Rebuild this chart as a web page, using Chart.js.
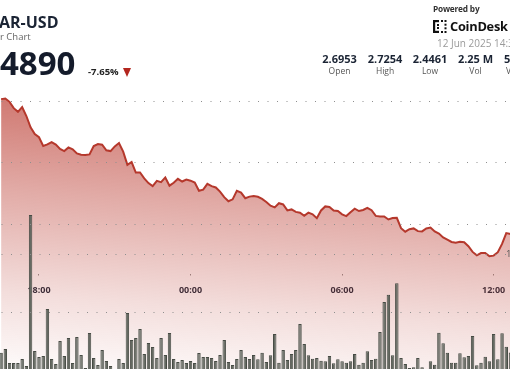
<!DOCTYPE html>
<html><head><meta charset="utf-8">
<script src="https://cdn.jsdelivr.net/npm/chart.js@4"></script>
<style>
html,body{margin:0;padding:0;background:#fff;}
#wrap{position:relative;width:510px;height:369px;overflow:hidden;background:#fff;font-family:'Open Sans',sans-serif;}
#c{position:absolute;left:-1px;top:0;}
.t{position:absolute;white-space:nowrap;}
.col{position:absolute;width:46px;text-align:center;white-space:nowrap;}
.v{font-weight:700;font-size:11px;line-height:11px;color:#1b2434;top:52.9px;}
.l{font-weight:400;font-size:8.5px;line-height:8.5px;color:#555;top:66.5px;}
</style></head><body>
<div id="wrap">
<canvas id="c" width="522" height="370"></canvas>
<div class="t" style="left:-1px;top:14.2px;font-weight:700;font-size:16px;line-height:16px;color:#1b2434;">AR-USD</div>
<div class="t" style="left:0px;top:31.9px;font-size:9.5px;line-height:9.5px;color:#666;">r Chart</div>
<div class="t" style="left:0px;top:46px;font-weight:700;font-size:33px;line-height:33px;color:#141b2b;">4890</div>
<div class="t" style="left:88px;top:66.6px;font-weight:700;font-size:9.5px;line-height:9.5px;color:#222;">-7.65%</div>
<div class="t" style="left:123px;top:68px;width:0;height:0;border-left:4.5px solid transparent;border-right:4.5px solid transparent;border-top:9px solid #b3261e;"></div>
<div class="t" style="left:433px;top:5.2px;font-weight:700;font-size:8.3px;line-height:8.3px;color:#333;letter-spacing:-0.2px;">Powered by</div>
<svg class="t" style="left:433px;top:20px;" width="14" height="13" viewBox="0 0 14 13">
<rect x="0" y="0" width="2.2" height="13" fill="#111"/>
<rect x="0" y="0" width="6" height="2.2" fill="#111"/>
<rect x="0" y="10.8" width="6" height="2.2" fill="#111"/>
<rect x="8" y="0" width="2" height="2" fill="#111"/><rect x="11.5" y="0" width="2" height="2" fill="#111"/>
<rect x="8" y="11" width="2" height="2" fill="#111"/><rect x="11.5" y="11" width="2" height="2" fill="#111"/>
<rect x="11.5" y="3.7" width="2" height="2" fill="#111"/><rect x="11.5" y="7.3" width="2" height="2" fill="#111"/>
<rect x="4" y="4" width="2" height="2" fill="#111"/><rect x="4" y="7" width="2" height="2" fill="#111"/>
</svg>
<div class="t" style="left:450px;top:20.3px;font-weight:700;font-size:12.8px;line-height:12.8px;color:#111;letter-spacing:-0.25px;">CoinDesk</div>
<div class="t" style="left:437px;top:38.1px;font-size:10px;line-height:10px;color:#9a9a9a;">12 Jun 2025 14:33</div>
<div class="col v" style="left:316.5px;">2.6953</div>
<div class="col v" style="left:362px;">2.7254</div>
<div class="col v" style="left:407px;">2.4461</div>
<div class="col v" style="left:452.5px;">2.25 M</div>
<div class="t v" style="left:504px;">5</div>
<div class="col l" style="left:316.5px;">Open</div>
<div class="col l" style="left:362px;">High</div>
<div class="col l" style="left:407px;">Low</div>
<div class="col l" style="left:452.5px;">Vol</div>
<div class="t l" style="left:506px;">V</div>
<div class="t" style="left:506px;top:249.3px;font-size:9.5px;line-height:9.5px;color:#555;">1M</div>
</div>
<script>
const times = [
"16:30","16:40","16:50","17:00","17:10","17:20","17:30","17:40","17:50",
"18:00","18:10","18:20","18:30","18:40","18:50","19:00","19:10","19:20","19:30","19:40","19:50",
"20:00","20:10","20:20","20:30","20:40","20:50","21:00","21:10","21:20","21:30","21:40","21:50",
"22:00","22:10","22:20","22:30","22:40","22:50","23:00","23:10","23:20","23:30","23:40","23:50",
"00:00","00:10","00:20","00:30","00:40","00:50","01:00","01:10","01:20","01:30","01:40","01:50",
"02:00","02:10","02:20","02:30","02:40","02:50","03:00","03:10","03:20","03:30","03:40","03:50",
"04:00","04:10","04:20","04:30","04:40","04:50","05:00","05:10","05:20","05:30","05:40","05:50",
"06:00","06:10","06:20","06:30","06:40","06:50","07:00","07:10","07:20","07:30","07:40","07:50",
"08:00","08:10","08:20","08:30","08:40","08:50","09:00","09:10","09:20","09:30","09:40","09:50",
"10:00","10:10","10:20","10:30","10:40","10:50","11:00","11:10","11:20","11:30","11:40","11:50",
"12:00","12:10","12:20","12:30","12:40","12:50","13:00"];
const xTickLabels = ["18:00","00:00","06:00","12:00"];
const price = [
2.7031,2.7041,2.6987,2.6885,2.6825,2.6903,2.6757,2.6574,2.6465,2.6413,
2.6270,2.6296,2.6335,2.6293,2.6223,2.6189,2.6248,2.6217,2.6150,2.6129,
2.6124,2.6134,2.6270,2.6303,2.6291,2.6202,2.6189,2.6265,2.6319,2.6180,
2.5964,2.6011,2.5841,2.5841,2.5747,2.5670,2.5620,2.5706,2.5685,2.5761,
2.5627,2.5674,2.5738,2.5695,2.5727,2.5708,2.5677,2.5544,2.5562,2.5657,
2.5620,2.5599,2.5531,2.5442,2.5375,2.5406,2.5544,2.5515,2.5424,2.5450,
2.5458,2.5447,2.5414,2.5364,2.5302,2.5276,2.5343,2.5323,2.5226,2.5242,
2.5202,2.5190,2.5139,2.5190,2.5164,2.5100,2.5226,2.5291,2.5283,2.5224,
2.5216,2.5163,2.5134,2.5197,2.5255,2.5216,2.5233,2.5268,2.5229,2.5137,
2.5129,2.5129,2.5079,2.5104,2.5106,2.4937,2.4881,2.4921,2.4934,2.4890,
2.4886,2.4934,2.4949,2.4884,2.4851,2.4788,2.4751,2.4715,2.4702,2.4717,
2.4710,2.4646,2.4553,2.4498,2.4535,2.4537,2.4482,2.4493,2.4548,2.4683,
2.4858,2.4843];
const volumeM = [
0.149,0.181,0.060,0.060,0.060,0.095,0.034,1.336,0.164,0.112,
0.121,0.526,0.095,0.052,0.250,0.121,0.276,0.060,0.284,0.129,
0.017,0.319,0.103,0.043,0.172,0.078,0.034,0.009,0.095,0.060,
0.491,0.259,0.276,0.353,0.138,0.233,0.198,0.103,0.276,0.129,
0.319,0.095,0.069,0.086,0.060,0.078,0.060,0.147,0.112,0.112,
0.103,0.078,0.129,0.259,0.069,0.043,0.095,0.172,0.112,0.095,
0.129,0.092,0.149,0.069,0.127,0.310,0.063,0.172,0.086,0.138,
0.172,0.397,0.224,0.127,0.097,0.103,0.080,0.075,0.121,0.058,
0.092,0.075,0.063,0.075,0.138,0.046,0.063,0.161,0.086,0.097,
0.328,0.586,0.649,0.127,0.747,0.103,0.052,0.017,0.023,0.103,
0.023,0.009,0.075,0.046,0.322,0.230,0.149,0.063,0.063,0.144,
0.109,0.121,0.293,0.041,0.063,0.115,0.075,0.310,0.092,0.316,
0.201,0.150];
const priceGrid = [2.5, 2.6, 2.7];
const volumeGrid = [0.5, 1];

function fillGradient(context) {
  const chart = context.chart;
  const a = chart.chartArea;
  if (!a) return 'rgba(190,70,60,0.3)';
  const g = chart.ctx.createLinearGradient(a.left + 1, a.bottom + 10, a.left + 21, a.top);
  g.addColorStop(0, 'rgba(190,70,60,0)');
  g.addColorStop(0.3, 'rgba(190,70,60,0.18)');
  g.addColorStop(0.65, 'rgba(190,70,60,0.45)');
  g.addColorStop(1, 'rgba(190,70,60,0.75)');
  return g;
}

const gridDots = {display: true, drawOnChartArea: true, color: '#8e8e8e', lineWidth: 1, drawTicks: false, z: 1};
const dotBorder = {display: false, dash: [1, 8.5], dashOffset: 7};

new Chart(document.getElementById('c'), {
  type: 'bar',
  data: {
    labels: times,
    datasets: [
      {type: 'bar', label: 'Volume', data: volumeM, yAxisID: 'yv',
       backgroundColor: '#656a62', borderColor: '#464b44', borderWidth: 1,
       barPercentage: 0.82, categoryPercentage: 1, order: 0},
      {type: 'line', label: 'Price', data: price, yAxisID: 'y',
       borderColor: '#b5382c', borderWidth: 2, pointRadius: 0, tension: 0,
       fill: 'start', backgroundColor: fillGradient, order: 1}
    ]
  },
  options: {
    responsive: false, animation: false,
    layout: {padding: {top: 90, left: 0, right: 0, bottom: 0}},
    plugins: {legend: {display: false}, tooltip: {enabled: false}},
    scales: {
      x: {
        position: {y: 2.4187}, offset: true,
        grid: {display: true, offset: false, drawOnChartArea: false, drawTicks: true, tickLength: 1.5, color: '#8e8e8e'},
        border: {display: false},
        ticks: {autoSkip: false, maxRotation: 0, padding: 9.5, color: '#1b2434',
                font: {family: 'Open Sans', size: 9, weight: 'bold'}},
        afterBuildTicks: s => { s.ticks = s.ticks.filter(t => xTickLabels.includes(times[t.value])); }
      },
      y: {
        display: true, position: 'left', min: 2.2638, max: 2.7179,
        grid: gridDots, border: dotBorder, ticks: {display: false},
        afterBuildTicks: s => { s.ticks = priceGrid.map(v => ({value: v})); }
      },
      yv: {
        display: true, position: 'right', min: 0, max: 2.4138,
        grid: gridDots, border: dotBorder, ticks: {display: false},
        afterBuildTicks: s => { s.ticks = volumeGrid.map(v => ({value: v})); }
      }
    }
  }
});
</script>
</body></html>
